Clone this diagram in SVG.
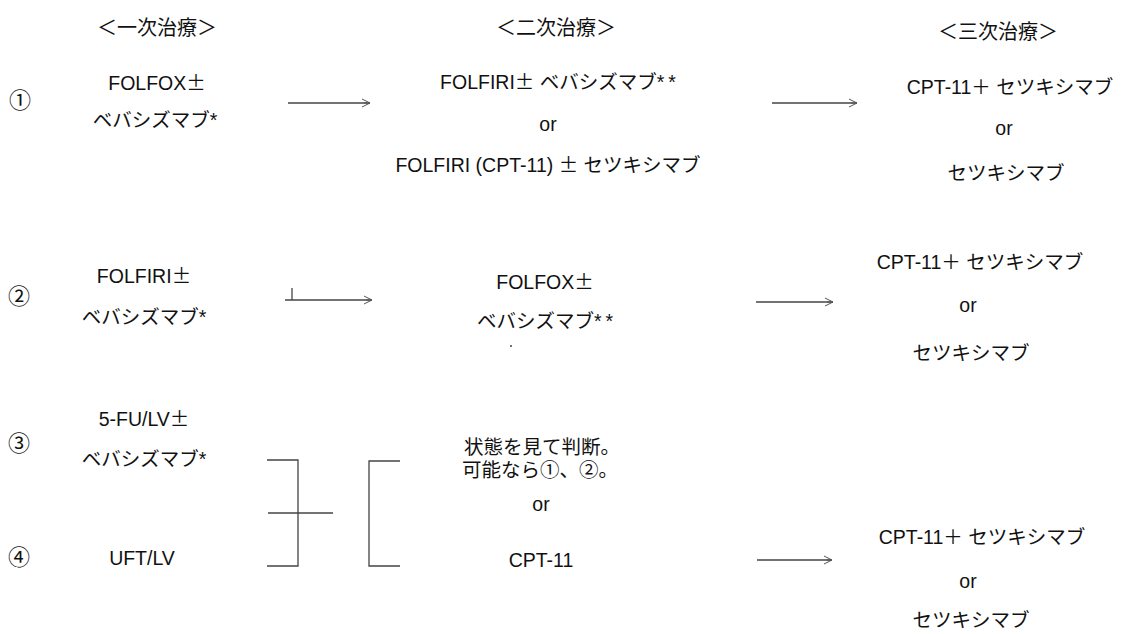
<svg xmlns="http://www.w3.org/2000/svg" width="1124" height="634" viewBox="0 0 1124 634">
<defs>
<style>
text{font-family:"Liberation Sans","Noto Sans CJK JP",sans-serif;font-size:19.5px;fill:#111;text-anchor:middle}
.h{font-size:20px}
.j{font-family:"Noto Sans CJK JP",sans-serif}
.s{letter-spacing:4px}
.n{font-family:"Noto Sans CJK JP",sans-serif;font-size:22px}
.c{fill:none;stroke:#444;stroke-width:1.3}
</style>
<marker id="ah" markerWidth="12" markerHeight="10" refX="9" refY="5" orient="auto" markerUnits="userSpaceOnUse">
<path d="M1,1 L9,5 L1,9 M3,5 H9" fill="none" stroke="#555" stroke-width="1"/>
</marker>
</defs>
<rect width="1124" height="634" fill="#fff"/>

<g id="headers">
<text class="h j" x="157" y="35">＜一次治療＞</text>
<text class="h j" x="556" y="35">＜二次治療＞</text>
<text class="h j" x="998" y="39">＜三次治療＞</text>
</g>

<g id="row-labels">
<text class="n" x="20" y="108">①</text>
<text class="n" x="19" y="304">②</text>
<text class="n" x="19" y="451">③</text>
<text class="n" x="19" y="565">④</text>
</g>

<g id="r1-first">
<text x="157" y="90">FOLFOX<tspan class="j">±</tspan></text>
<text x="155" y="127">ベバシズマブ*</text>
</g>
<g id="r1-second">
<text x="560" y="89">FOLFIRI<tspan class="j">±</tspan> ベバシズマブ<tspan class="s">**</tspan></text>
<text x="548" y="131">or</text>
<text x="548" y="172">FOLFIRI (CPT-11) <tspan class="j">±</tspan> セツキシマブ</text>
</g>
<g id="r1-third">
<text x="1010" y="94">CPT-11＋ セツキシマブ</text>
<text x="1004" y="135">or</text>
<text x="1006" y="180">セツキシマブ</text>
</g>

<g id="r2-first">
<text x="144" y="283">FOLFIRI<tspan class="j">±</tspan></text>
<text x="144" y="324">ベバシズマブ*</text>
</g>
<g id="r2-second">
<text x="545" y="289">FOLFOX<tspan class="j">±</tspan></text>
<text x="547" y="328">ベバシズマブ<tspan class="s">**</tspan></text>
<circle cx="511" cy="346" r="0.9" fill="#333"/>
</g>
<g id="r2-third">
<text x="980" y="269">CPT-11＋ セツキシマブ</text>
<text x="968" y="312">or</text>
<text x="971" y="360">セツキシマブ</text>
</g>

<g id="r3-first">
<text x="144" y="426">5-FU/LV<tspan class="j">±</tspan></text>
<text x="144" y="466">ベバシズマブ*</text>
</g>
<g id="r4-first">
<text x="142" y="565">UFT/LV</text>
</g>
<g id="r34-second">
<text x="542" y="454">状態を見て判断。</text>
<text x="540" y="477">可能なら①、②。</text>
<text x="541" y="511">or</text>
<text x="541" y="567">CPT-11</text>
</g>
<g id="r4-third">
<text x="982" y="544">CPT-11＋ セツキシマブ</text>
<text x="968" y="588">or</text>
<text x="971" y="627">セツキシマブ</text>
</g>

<g id="connectors">
<line class="c" x1="288" y1="103" x2="370" y2="103" marker-end="url(#ah)"/>
<line class="c" x1="772" y1="103" x2="857" y2="103" marker-end="url(#ah)"/>
<line class="c" x1="285" y1="300" x2="372" y2="300" marker-end="url(#ah)"/>
<line class="c" x1="292" y1="288" x2="292" y2="300"/>
<line class="c" x1="756" y1="302" x2="833" y2="302" marker-end="url(#ah)"/>
<line class="c" x1="757" y1="560" x2="832" y2="560" marker-end="url(#ah)"/>
<path class="c" d="M267,460 H298 V566 H267"/>
<path class="c" d="M268,513 H333"/>
<path class="c" d="M400,461 H369 V566 H400"/>
</g>
</svg>
